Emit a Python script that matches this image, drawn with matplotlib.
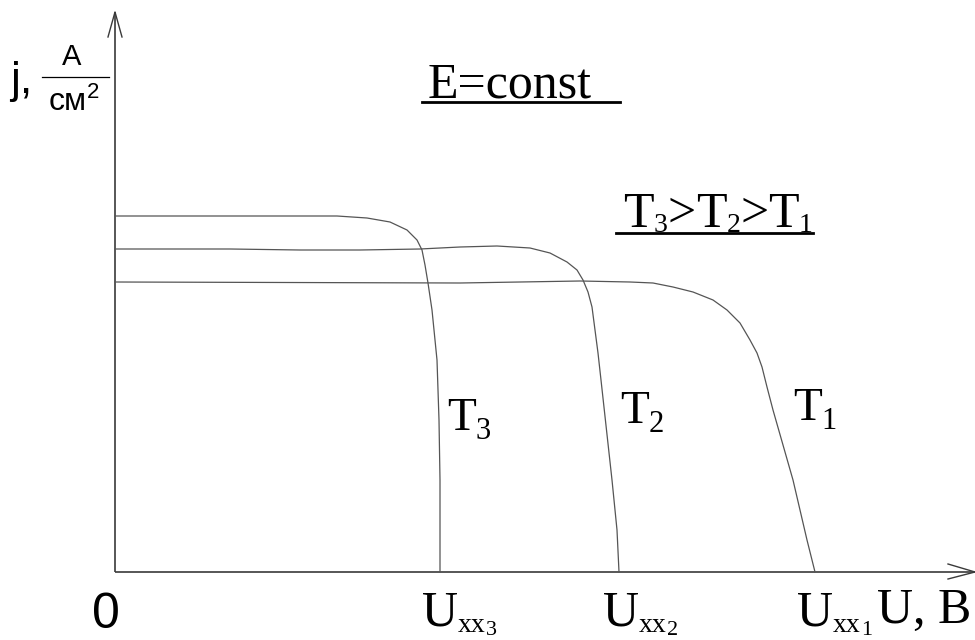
import matplotlib
matplotlib.use("Agg")
import matplotlib.pyplot as plt

# current-voltage curves, U in arbitrary volts, j in arbitrary A/cm^2
u_t3 = [0.00, 2.22, 2.52, 2.75, 2.92, 3.02, 3.07, 3.10, 3.13, 3.17, 3.20, 3.22, 3.24, 3.25, 3.25]
j_t3 = [3.56, 3.56, 3.54, 3.50, 3.42, 3.32, 3.22, 3.07, 2.89, 2.62, 2.32, 2.12, 1.52, 0.92, 0.00]

u_t2 = [0.00, 1.15, 1.85, 2.45, 3.05, 3.45, 3.82, 4.15, 4.35, 4.52, 4.62, 4.68, 4.73, 4.77,
        4.80, 4.83, 4.86, 4.97, 5.02, 5.04]
j_t2 = [3.23, 3.23, 3.22, 3.22, 3.23, 3.25, 3.26, 3.24, 3.19, 3.10, 3.02, 2.92, 2.80, 2.65,
        2.42, 2.19, 1.92, 0.92, 0.42, 0.00]

u_t1 = [0.00, 3.45, 4.65, 5.15, 5.38, 5.58, 5.78, 5.98, 6.12, 6.25, 6.35, 6.42, 6.47, 6.52,
        6.58, 6.68, 6.78, 6.92, 7.00]
j_t1 = [2.90, 2.89, 2.91, 2.90, 2.89, 2.85, 2.80, 2.72, 2.62, 2.49, 2.32, 2.19, 2.05, 1.85,
        1.62, 1.27, 0.92, 0.32, 0.00]

temp_idx = ['3', '2', '1']

CURVE = '#555555'
AXIS = '#3a3a3a'
SERIF = 'Liberation Serif'
SANS = 'Liberation Sans'

fig = plt.figure(figsize=(9.75, 6.4), dpi=100)
ax = fig.add_axes([0, 0, 1, 1])
ax.set_xlim(-1.15, 8.60)
ax.set_ylim(-0.68, 5.72)
ax.axis('off')
renderer = fig.canvas.get_renderer()


def draw_pieces(x, y, pieces, family=SERIF):
    """Write text pieces one after another; each piece is (text, size, dy)."""
    for txt, size, dy in pieces:
        t = ax.text(x, y + dy, txt, fontsize=size, family=family,
                    ha='left', va='baseline')
        bb = t.get_window_extent(renderer)
        x = ax.transData.inverted().transform((bb.x1, 0))[0]
    return x


# axes with open arrow heads
ax.plot([0, 8.60], [0, 0], color=AXIS, lw=1.2, solid_capstyle='butt')
ax.plot([0, 0], [0, 5.60], color=AXIS, lw=1.2, solid_capstyle='butt')
ax.plot([8.33, 8.60, 8.33], [0.08, 0.0, -0.07], color=AXIS, lw=1.0)
ax.plot([-0.07, 0.0, 0.07], [5.35, 5.60, 5.35], color=AXIS, lw=1.0)

for u, j in [(u_t3, j_t3), (u_t2, j_t2), (u_t1, j_t1)]:
    ax.plot(u, j, color=CURVE, lw=0.9)

# curve labels T3, T2, T1
for (x, y), k in zip([(3.32, 1.42), (5.05, 1.49), (6.78, 1.52)], temp_idx):
    draw_pieces(x, y, [('T', 34, 0), (k, 22, -0.09)])

# open-circuit voltages under the U axis
for x, k in zip([3.07, 4.88, 6.82], temp_idx):
    draw_pieces(x, -0.54, [('U', 36, 0), ('хх', 20, -0.06), (k, 16, -0.09)])
ax.text(7.62, -0.51, 'U, В', fontsize=36, family=SERIF, ha='left', va='baseline')
ax.text(-0.09, -0.56, '0', fontsize=36, family=SANS, ha='center', va='baseline')

# headings, underlined
ax.text(3.13, 4.75, 'E=const', fontsize=36, family=SERIF, ha='left', va='baseline')
ax.plot([3.07, 5.05], [4.70, 4.70], color='black', lw=2.0)
draw_pieces(5.08, 3.45, [('T', 36, 0), ('3', 20, -0.05), ('>', 36, 0),
                         ('T', 36, 0), ('2', 20, -0.05), ('>', 36, 0),
                         ('T', 36, 0), ('1', 20, -0.05)])
ax.plot([5.01, 6.98], [3.39, 3.39], color='black', lw=2.0)

# j axis label with A/cm^2 fraction
ax.text(-1.05, 4.79, 'j,', fontsize=32, family=SANS, ha='left', va='baseline')
ax.text(-0.43, 5.07, 'А', fontsize=21, family=SANS, ha='center', va='baseline')
ax.plot([-0.73, -0.06], [4.95, 4.95], color='black', lw=0.9)
draw_pieces(-0.66, 4.62, [('см', 23, 0), ('2', 16, 0.12)], family=SANS)

fig.savefig('out.png', dpi=100)
